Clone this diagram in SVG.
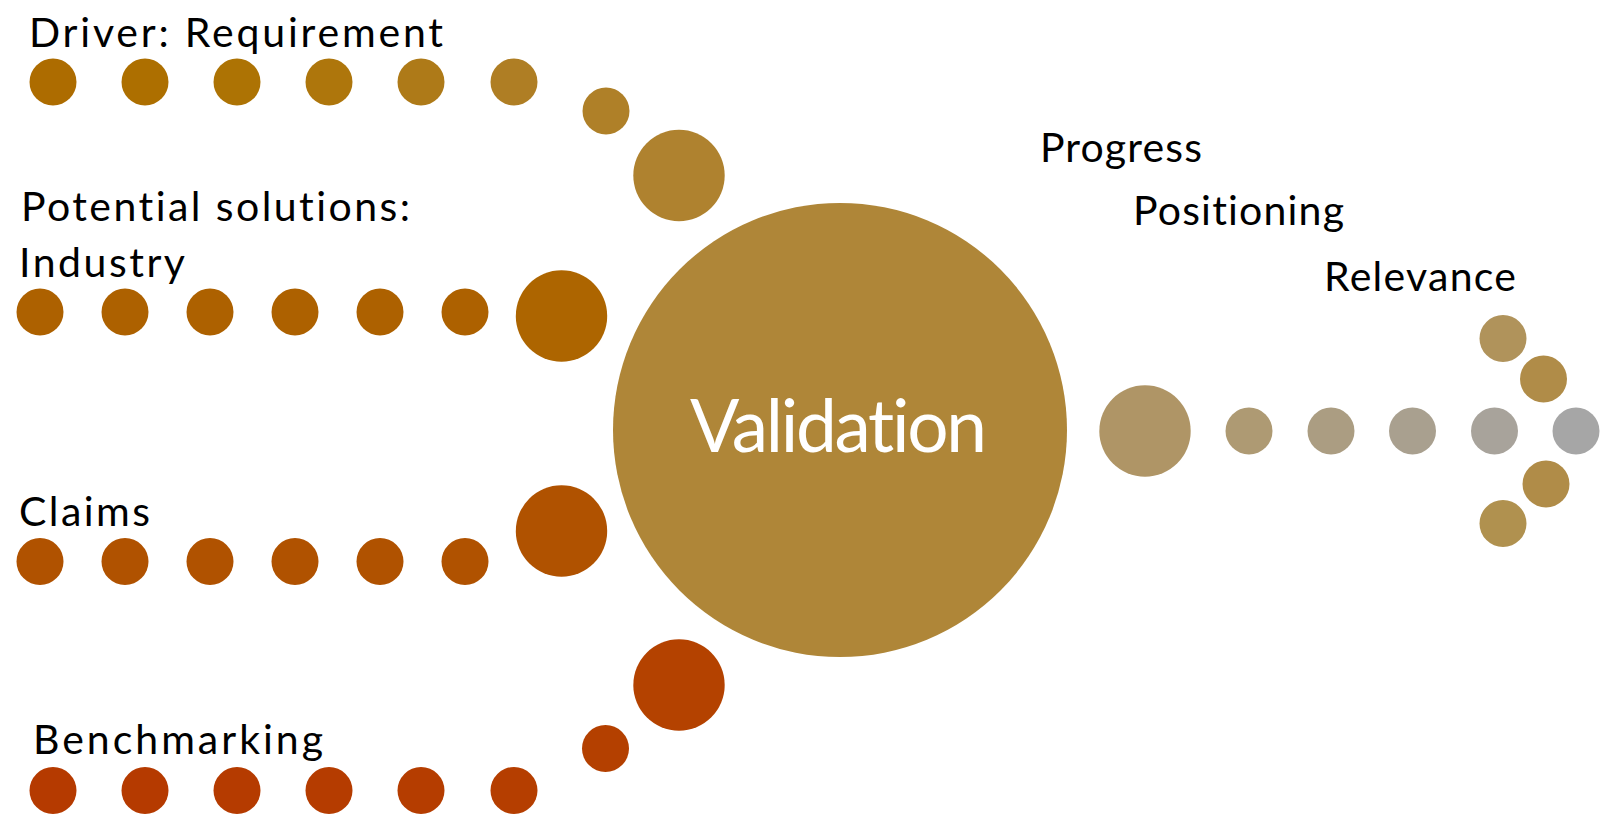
<svg xmlns="http://www.w3.org/2000/svg" width="1602" height="822" viewBox="0 0 1602 822">
<style>
.lbl{font-family:Lato,"Liberation Sans",sans-serif;font-size:41px;fill:#000;font-variant-ligatures:none}
.big{font-family:Lato,"Liberation Sans",sans-serif;font-size:73px;fill:#fff;font-variant-ligatures:none}
</style>
<rect width="1602" height="822" fill="#fff"/>
<g id="row-driver">
<circle cx="53" cy="82" r="23.5" fill="#AD6C00"/>
<circle cx="145" cy="82" r="23.5" fill="#AD6F00"/>
<circle cx="237" cy="82" r="23.5" fill="#AD7304"/>
<circle cx="329" cy="82" r="23.5" fill="#AE760C"/>
<circle cx="421" cy="82" r="23.5" fill="#AE7A18"/>
<circle cx="514" cy="82" r="23.5" fill="#AF7E24"/>
<circle cx="606" cy="111" r="23.5" fill="#AF8028"/>
<circle cx="679" cy="175.5" r="45.7" fill="#AF822F"/>
<text class="lbl" x="29" y="46.5" textLength="414">Driver: Requirement</text>
</g>
<g id="row-industry">
<circle cx="40" cy="312" r="23.5" fill="#AD6100"/>
<circle cx="125" cy="312" r="23.5" fill="#AD6100"/>
<circle cx="210" cy="312" r="23.5" fill="#AD6100"/>
<circle cx="295" cy="312" r="23.5" fill="#AD6100"/>
<circle cx="380" cy="312" r="23.5" fill="#AD6100"/>
<circle cx="465" cy="312" r="23.5" fill="#AD6100"/>
<circle cx="561.5" cy="316" r="45.7" fill="#AD6500"/>
<text class="lbl" x="21" y="221" textLength="389">Potential solutions:</text>
<text class="lbl" x="19" y="276.5" textLength="166">Industry</text>
</g>
<g id="row-claims">
<circle cx="40" cy="561.5" r="23.5" fill="#B05200"/>
<circle cx="125" cy="561.5" r="23.5" fill="#B05200"/>
<circle cx="210" cy="561.5" r="23.5" fill="#B05200"/>
<circle cx="295" cy="561.5" r="23.5" fill="#B05200"/>
<circle cx="380" cy="561.5" r="23.5" fill="#B05200"/>
<circle cx="465" cy="561.5" r="23.5" fill="#B05200"/>
<circle cx="561.5" cy="531" r="45.7" fill="#B05200"/>
<text class="lbl" x="19" y="526" textLength="131">Claims</text>
</g>
<g id="row-benchmarking">
<circle cx="53" cy="790.5" r="23.5" fill="#B53A00"/>
<circle cx="145" cy="790.5" r="23.5" fill="#B53A00"/>
<circle cx="237" cy="790.5" r="23.5" fill="#B53B00"/>
<circle cx="329" cy="790.5" r="23.5" fill="#B53C00"/>
<circle cx="421" cy="790.5" r="23.5" fill="#B53D00"/>
<circle cx="514" cy="790.5" r="23.5" fill="#B53E00"/>
<circle cx="605.5" cy="748.5" r="23.5" fill="#B44000"/>
<circle cx="679" cy="685" r="45.7" fill="#B44200"/>
<text class="lbl" x="33" y="754" textLength="290">Benchmarking</text>
</g>
<g id="validation">
<circle cx="840" cy="430" r="227" fill="#AF8638"/>
<text class="big" x="690" y="451.5" textLength="297">Validation</text>
</g>
<g id="outputs">
<circle cx="1145" cy="431" r="45.7" fill="#AF9566"/>
<circle cx="1249" cy="431" r="23.5" fill="#AE9A73"/>
<circle cx="1331" cy="431" r="23.5" fill="#AB9D82"/>
<circle cx="1412.5" cy="431" r="23.5" fill="#A9A08F"/>
<circle cx="1494.5" cy="431" r="23.5" fill="#A8A39B"/>
<circle cx="1576" cy="431" r="23.5" fill="#A6A6A6"/>
<circle cx="1503" cy="338.5" r="23.5" fill="#B0935B"/>
<circle cx="1543.5" cy="379" r="23.5" fill="#B08C48"/>
<circle cx="1546" cy="484" r="23.5" fill="#B08C48"/>
<circle cx="1503" cy="523.5" r="23.5" fill="#B0914F"/>
<text class="lbl" x="1040" y="162" textLength="162">Progress</text>
<text class="lbl" x="1133" y="225" textLength="211">Positioning</text>
<text class="lbl" x="1324" y="290.5" textLength="192">Relevance</text>
</g>
<g id="connectors"/>
</svg>
